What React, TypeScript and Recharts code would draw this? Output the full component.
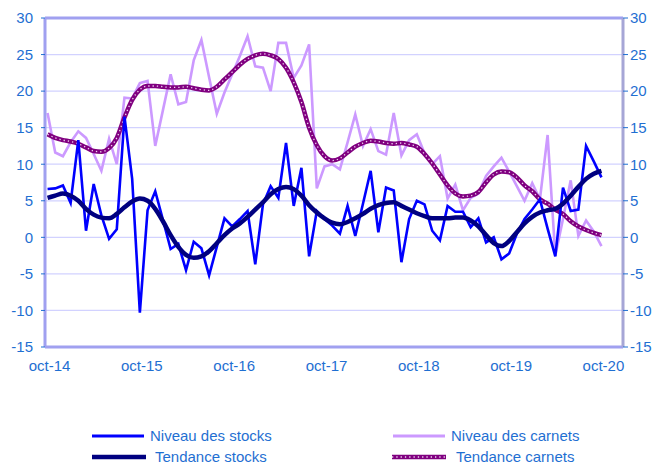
import React from 'react';
import { LineChart, Line, XAxis, YAxis, CartesianGrid, ReferenceLine } from 'recharts';

// x ticks (month index from oct-14) and their labels
const tickIndex = [0, 12, 24, 36, 48, 60, 72];
const tickLabels = ['oct-14', 'oct-15', 'oct-16', 'oct-17', 'oct-18', 'oct-19', 'oct-20'];
const yTicks = [-15, -10, -5, 0, 5, 10, 15, 20, 25, 30];

// Niveau des stocks (monthly, oct-14 .. oct-20)
const stocksLevel = [
  6.6, 6.7, 7.1, 4.7, 13.3, 0.9, 7.3, 3.0, -0.2, 1.1, 16.5, 8.0,
  -10.3, 3.7, 6.3, 2.4, -1.6, -0.9, -4.5, -0.6, -1.5, -5.2, -1.3, 2.6,
  1.5, 2.5, 3.6, -3.7, 4.5, 7.0, 5.4, 12.9, 4.3, 9.5, -2.6, 3.6,
  2.5, 1.6, 0.5, 4.3, 0.2, 4.6, 9.1, 0.7, 6.8, 6.4, -3.4, 2.5,
  5.0, 4.5, 0.9, -0.4, 4.3, 3.5, 3.5, 1.4, 2.6, -0.7, 0.0, -3.0,
  -2.2, 0.5, 2.5, 3.8, 5.2, 1.2, -2.6, 6.8, 3.6, 3.8, 12.5, 10.4,
  8.2,
];

// Niveau des carnets
const carnetsLevel = [
  17.0, 11.6, 11.1, 13.0, 14.5, 13.6, 11.4, 9.1, 13.5, 10.0, 19.1, 19.0,
  21.1, 21.4, 12.5, 17.4, 22.3, 18.2, 18.5, 24.2, 27.0, 21.9, 16.9, 19.8,
  22.3, 24.8, 27.5, 23.4, 23.2, 20.0, 26.6, 26.6, 21.8, 23.5, 26.4, 6.7,
  9.7, 10.0, 9.3, 13.0, 16.8, 12.5, 14.8, 11.8, 11.3, 17.0, 11.2, 13.3,
  14.1, 11.5, 10.0, 11.1, 5.3, 7.2, 3.7, 5.4, 6.0, 8.4, 9.7, 10.9,
  9.0, 7.0, 5.0, 7.4, 5.2, 14.0, -2.5, 2.5, 7.8, 0.2, 2.3, 0.8,
  -1.2,
];

// Tendance stocks
const stocksTrend = [
  5.4, 5.7, 6.0, 5.7, 5.0, 3.9, 3.1, 2.7, 2.6, 3.2, 4.1, 4.9,
  5.3, 5.0, 3.9, 2.2, 0.3, -1.3, -2.4, -2.8, -2.6, -1.9, -0.8, 0.3,
  1.2, 1.9, 2.8, 3.8, 4.8, 5.9, 6.6, 6.9, 6.6, 5.7, 4.4, 3.4,
  2.6, 2.0, 1.8, 2.1, 2.6, 3.2, 3.9, 4.4, 4.7, 4.8, 4.3, 3.8,
  3.3, 2.9, 2.6, 2.6, 2.6, 2.7, 2.7, 2.3, 1.5, 0.3, -0.8, -1.2,
  -0.5, 0.7, 1.9, 2.8, 3.4, 3.7, 3.9, 4.6, 5.7, 6.9, 8.0, 8.7,
  9.1,
];

// Tendance carnets
const carnetsTrend = [
  14.1, 13.6, 13.3, 13.1, 12.8, 12.3, 11.8, 11.7, 12.2, 13.6, 16.4, 18.8,
  20.2, 20.7, 20.7, 20.6, 20.5, 20.5, 20.6, 20.4, 20.2, 20.1, 20.6, 21.6,
  22.6, 23.6, 24.4, 24.9, 25.1, 24.9, 24.4, 23.2, 21.2, 18.5, 15.0, 12.6,
  11.1, 10.5, 10.8, 11.6, 12.4, 12.9, 13.2, 13.1, 12.9, 12.8, 12.9, 12.7,
  12.4, 11.4, 10.1, 8.6, 7.1, 6.0, 5.6, 5.7, 6.2, 7.5, 8.6, 9.0,
  8.9, 8.2, 7.1, 6.3, 5.2, 4.6, 3.8, 3.2, 2.2, 1.5, 1.0, 0.6,
  0.3,
];

const data = stocksLevel.map((v, i) => ({
  i,
  stocks: v,
  carnets: carnetsLevel[i],
  tStocks: stocksTrend[i],
  tCarnets: carnetsTrend[i],
}));

const FONT = '"Liberation Sans", Arial, sans-serif';
const TXT = '#1F6FD2';
const BORDER = '#a0a0f0';
const GRID = '#d2d2ff';

const labelFor = (v: number) => {
  const k = tickIndex.indexOf(v);
  return k >= 0 ? tickLabels[k] : '';
};

const gridX = (props: any) => {
  const xAxis = props && props.xAxis;
  if (!xAxis || typeof xAxis.scale !== 'function') return [];
  return tickIndex.slice(1).map((t) => xAxis.scale(t));
};

const LegendItem = ({ x, y, textX, label, kind }: any) => (
  <>
    <svg style={{ position: 'absolute', left: x, top: y - 5, overflow: 'visible' }} width={56} height={10}>
      {kind === 'stocks' && <line x1={0} y1={5} x2={52} y2={5} stroke="#0000ff" strokeWidth={3} />}
      {kind === 'carnets' && <line x1={0} y1={5} x2={52} y2={5} stroke="#cc99ff" strokeWidth={3} />}
      {kind === 'tStocks' && <line x1={0} y1={5} x2={54} y2={5} stroke="#000080" strokeWidth={4.5} />}
      {kind === 'tCarnets' && (
        <>
          <line x1={0} y1={5} x2={54} y2={5} stroke="#800080" strokeWidth={4.5} />
          <line x1={0} y1={5} x2={54} y2={5} stroke="#f0d6f0" strokeWidth={1.3} strokeDasharray="1.3 3" />
        </>
      )}
    </svg>
    <div
      style={{
        position: 'absolute',
        left: textX,
        top: y - 7,
        fontFamily: FONT,
        fontSize: 15,
        lineHeight: '14px',
        color: TXT,
        whiteSpace: 'nowrap',
      }}
    >
      {label}
    </div>
  </>
);

export default function App() {
  return (
    <div style={{ position: 'absolute', left: 0, top: 0, width: 652, height: 464, background: '#fff', overflow: 'hidden' }}>
      <LineChart
        width={652}
        height={464}
        data={data}
        margin={{ top: 18, right: 4, bottom: 87, left: 5 }}
        style={{ fontFamily: FONT }}
      >
        <CartesianGrid
          stroke={GRID}
          strokeWidth={1.3}
          yAxisId="left"
          verticalCoordinatesGenerator={gridX}
        />
        <XAxis
          dataKey="i"
          type="number"
          domain={[-0.33, 74.8]}
          allowDataOverflow
          ticks={tickIndex}
          tickFormatter={labelFor}
          height={30}
          tickSize={0}
          tickMargin={13}
          interval={0}
          axisLine={{ stroke: BORDER, strokeWidth: 3 }}
          tick={{ fill: TXT, fontSize: 15, fontFamily: FONT, dx: 2 }}
        />
        <YAxis
          yAxisId="left"
          domain={[-15, 30]}
          ticks={yTicks}
          width={40}
          interval={0}
          allowDataOverflow
          tickSize={4}
          tickMargin={8}
          axisLine={{ stroke: BORDER, strokeWidth: 3 }}
          tickLine={{ stroke: TXT }}
          tick={{ fill: TXT, fontSize: 15, fontFamily: FONT }}
        />
        <YAxis
          yAxisId="right"
          orientation="right"
          domain={[-15, 30]}
          ticks={yTicks}
          width={25}
          interval={0}
          allowDataOverflow
          tickSize={5}
          tickMargin={2}
          axisLine={{ stroke: '#a6a6d6', strokeWidth: 3 }}
          tickLine={{ stroke: TXT }}
          tick={{ fill: TXT, fontSize: 15, fontFamily: FONT }}
        />
        <ReferenceLine yAxisId="left" y={30} stroke={BORDER} strokeWidth={3} />
        <Line
          yAxisId="left"
          dataKey="carnets"
          type="linear"
          stroke="#cc99ff"
          strokeWidth={2.6}
          dot={false}
          isAnimationActive={false}
        />
        <Line
          yAxisId="left"
          dataKey="tCarnets"
          type="monotone"
          stroke="#800080"
          strokeWidth={4.5}
          dot={false}
          isAnimationActive={false}
        />
        <Line
          yAxisId="left"
          dataKey="tCarnets"
          type="monotone"
          stroke="#f0d6f0"
          strokeWidth={1.3}
          strokeDasharray="1.3 3"
          dot={false}
          legendType="none"
          isAnimationActive={false}
        />
        <Line
          yAxisId="left"
          dataKey="stocks"
          type="linear"
          stroke="#0000ff"
          strokeWidth={2.6}
          dot={false}
          isAnimationActive={false}
        />
        <Line
          yAxisId="left"
          dataKey="tStocks"
          type="monotone"
          stroke="#000080"
          strokeWidth={4.5}
          dot={false}
          isAnimationActive={false}
        />
      </LineChart>
      <LegendItem x={92} y={436} textX={150} label="Niveau des stocks" kind="stocks" />
      <LegendItem x={393} y={436} textX={451} label="Niveau des carnets" kind="carnets" />
      <LegendItem x={92} y={457} textX={155} label="Tendance stocks" kind="tStocks" />
      <LegendItem x={392} y={457} textX={456} label="Tendance carnets" kind="tCarnets" />
    </div>
  );
}
